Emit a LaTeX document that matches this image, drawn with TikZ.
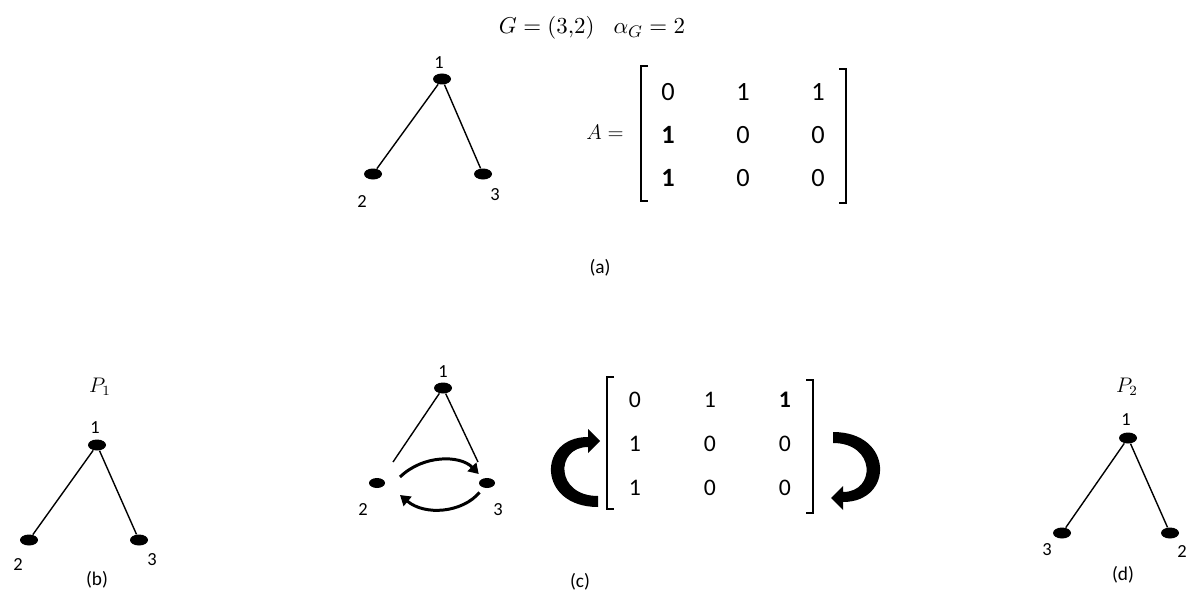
\documentclass[tikz,border=0pt]{standalone}
\usepackage{amsmath}
\usepackage{graphicx}
\usepackage{fontspec}
\setmainfont{Carlito}
\usepackage{tikz}
\usetikzlibrary{positioning, shapes, arrows.meta, matrix}

\tikzset{
  vtx/.style={ellipse, fill=black, draw=none, minimum width=3.6mm, minimum height=2.2mm, inner sep=0pt},
  vtxs/.style={vtx, minimum width=3.2mm, minimum height=2mm},
  lbl/.style={font=\fontsize{10.5}{12}\selectfont, inner sep=0pt},
  tag/.style={font=\fontsize{11}{13}\selectfont, inner sep=0pt},
  link/.style={line width=0.8pt},
  brk/.style={line width=0.6pt},
  mat/.style={matrix of nodes, nodes={minimum width=5mm, minimum height=5mm, inner sep=0pt, anchor=center}, column sep=10mm},
  flip/.style={line width=1.7pt, -{Triangle[length=2mm, width=2.4mm]}},
  bigturn/.pic={
    \fill (23,39) -- (23,28) .. controls (-20,28) and (-20,-21) .. (13,-21)
      -- (13,-15) -- (25,-27) -- (13,-39) -- (13,-31)
      .. controls (-38,-31) and (-38,39) .. (23,39) -- cycle;
  }
}

\begin{document}
\begin{tikzpicture}[x=0.2mm, y=-0.2mm]
  \useasboundingbox (0,0) rectangle (1188,594);

  % (a)
  \node[tag] (title) at (592,28) {\scalebox{1.19}{$G = (3{,}2)\;\;\; \alpha_G = 2$}};
  \node[vtx] (a1) at (442,79) {};
  \node[vtx] (a2) at (373,174) {};
  \node[vtx] (a3) at (483,174) {};
  \draw[link] (a1) -- (a2);
  \draw[link] (a1) -- (a3);
  \node[lbl] (la1) at (439,63) {1};
  \node[lbl] (la2) at (362,202) {2};
  \node[lbl] (la3) at (495,195) {3};
  \node[tag, font=\fontsize{12}{14}\selectfont] (aeq) at (605,132) {$A =$};
  \matrix (ma) [mat, row sep=3.6mm, nodes={font=\fontsize{15}{18}\selectfont}] at (743,135) {
    0 & 1 & 1 \\
    \textbf{1} & 0 & 0 \\
    \textbf{1} & 0 & 0 \\
  };
  \draw[brk] (648,66) -- (641,66) -- (641,201) -- (648,201);
  \draw[brk] (839,69) -- (846,69) -- (846,203) -- (839,203);
  \node[tag] (capa) at (600,268) {(a)};

  % (b)
  \node[tag, font=\fontsize{12}{14}\selectfont] (p1) at (100,387) {$P_1$};
  \node[vtx] (b1) at (97,445) {};
  \node[vtx] (b2) at (29,540) {};
  \node[vtx] (b3) at (139,540) {};
  \draw[link] (b1) -- (b2);
  \draw[link] (b1) -- (b3);
  \node[lbl] (lb1) at (95,428) {1};
  \node[lbl] (lb2) at (18,565) {2};
  \node[lbl] (lb3) at (152,560) {3};
  \node[tag] (capb) at (97,580) {(b)};

  % (c)
  \node[vtx] (c1) at (443,388) {};
  \node[vtxs] (c2) at (377,483) {};
  \node[vtxs] (c3) at (487,483) {};
  \coordinate (c2e) at (393,462);
  \coordinate (c3e) at (478,462);
  \coordinate (up0) at (400,477);
  \coordinate (lo1) at (400,495);
  \draw[link] (c1) -- (c2e);
  \draw[link] (c1) -- (c3e);
  \draw[flip, shorten >=1.2mm] (up0) to[bend left=45] (c3);
  \draw[flip, shorten <=1.2mm] (c3) to[bend left=45] (lo1);
  \node[lbl] (lc1) at (443,372) {1};
  \node[lbl] (lc2) at (363,510) {2};
  \node[lbl] (lc3) at (498,510) {3};
  \pic at (575,468) {bigturn};
  \matrix (mc) [mat, row sep=3.8mm, nodes={font=\fontsize{13.5}{16}\selectfont}] at (710,444) {
    0 & 1 & \textbf{1} \\
    1 & 0 & 0 \\
    1 & 0 & 0 \\
  };
  \draw[brk] (614,377) -- (607,377) -- (607,509) -- (614,509);
  \draw[brk] (806,380) -- (813,380) -- (813,513) -- (806,513);
  \pic[rotate=180] at (856,471) {bigturn};
  \node[tag] (capc) at (580,582) {(c)};

  % (d)
  \node[tag, font=\fontsize{12}{14}\selectfont] (p2) at (1127,387) {$P_2$};
  \node[vtx] (d1) at (1128,438) {};
  \node[vtx] (d3) at (1062,533) {};
  \node[vtx] (d2) at (1170,533) {};
  \draw[link] (d1) -- (d3);
  \draw[link] (d1) -- (d2);
  \node[lbl] (ld1) at (1126,420) {1};
  \node[lbl] (ld3) at (1047,550) {3};
  \node[lbl] (ld2) at (1182,552) {2};
  \node[tag] (capd) at (1123,575) {(d)};
\end{tikzpicture}
\end{document}
